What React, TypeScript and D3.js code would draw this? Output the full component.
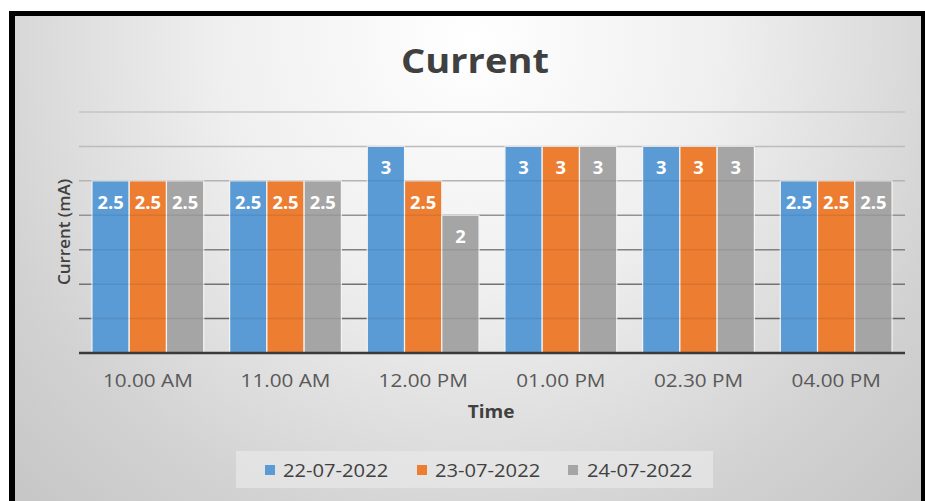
import React from "react";
import * as d3 from "d3";

const times = ["10.00 AM", "11.00 AM", "12.00 PM", "01.00 PM", "02.30 PM", "04.00 PM"];
const dates = ["22-07-2022", "23-07-2022", "24-07-2022"];
const day1 = [2.5, 2.5, 3, 3, 3, 2.5];
const day2 = [2.5, 2.5, 2.5, 3, 3, 2.5];
const day3 = [2.5, 2.5, 2, 3, 3, 2.5];
const seriesValues = [day1, day2, day3];
const colors = ["#5b9bd5", "#ed7d31", "#a5a5a5"];
const gridTicks = [0.5, 1, 1.5, 2, 2.5, 3, 3.5];

const W = 925;
const H = 501;
const FONT = "'Open Sans', 'Noto Sans', sans-serif";
const STRETCH = 1.12;

type TProps = {
  x: number;
  y: number;
  size: number;
  weight?: number;
  fill: string;
  anchor?: "start" | "middle" | "end";
  sx?: number;
  children: React.ReactNode;
};

// Text drawn with a slight horizontal widening, anchored at (x, y)
function SText({ x, y, size, weight = 400, fill, anchor = "middle", sx = STRETCH, children }: TProps) {
  return (
    <text
      transform={`translate(${x},${y}) scale(${sx},1)`}
      textAnchor={anchor}
      fontFamily={FONT}
      fontWeight={weight}
      fontSize={size}
      fill={fill}
    >
      {children}
    </text>
  );
}

export default function App() {
  const left = 79;
  const right = 905;
  const top = 112;
  const bottom = 353;

  const x0 = d3.scaleBand<string>().domain(times).range([left, right]).padding(0);
  const bw = x0.bandwidth();
  const x1 = d3
    .scaleBand<number>()
    .domain(d3.range(dates.length))
    .range([bw * 0.094, bw * 0.906])
    .padding(0);
  const y = d3.scaleLinear().domain([0, 3.5]).range([bottom, top]);

  const legendItems = [
    { sq: 265, tx: 283 },
    { sq: 417, tx: 435 },
    { sq: 568, tx: 587 },
  ];

  return (
    <svg
      width={W}
      height={H}
      style={{ position: "absolute", left: 0, top: 0, display: "block" }}
    >
      <defs>
        <radialGradient id="bg" gradientUnits="userSpaceOnUse" cx={470} cy={40} r={720}>
          <stop offset="0" stopColor="#ffffff" />
          <stop offset="0.35" stopColor="#efefef" />
          <stop offset="0.7" stopColor="#d2d2d2" />
          <stop offset="1" stopColor="#c0c0c0" />
        </radialGradient>
        <linearGradient id="gridShade" gradientUnits="userSpaceOnUse" x1={0} y1={top} x2={0} y2={bottom}>
          <stop offset="0" stopColor="#d6d6d6" />
          <stop offset="0.3" stopColor="#c4c4c4" />
          <stop offset="0.45" stopColor="#9a9a9a" />
          <stop offset="1" stopColor="#5e5e5e" />
        </linearGradient>
      </defs>

      <rect x={0} y={0} width={W} height={H} fill="#ffffff" />
      <rect x={9} y={11} width={W - 9} height={H - 11} fill="#000000" />
      <rect x={15} y={16} width={921 - 15} height={H - 16} fill="url(#bg)" />

      {/* title */}
      <SText x={475} y={73} size={34} weight={700} fill="#404040">
        Current
      </SText>

      {/* gridlines behind bars */}
      {gridTicks.map((t) => (
        <line
          key={"g" + t}
          x1={left}
          x2={right}
          y1={y(t)}
          y2={y(t)}
          stroke="url(#gridShade)"
          strokeWidth={1.5}
        />
      ))}

      {/* bars */}
      {seriesValues.map((vals, si) =>
        vals.map((v, i) => {
          const bx = (x0(times[i]) as number) + (x1(si) as number);
          return (
            <rect
              key={`b${si}-${i}`}
              x={bx}
              y={y(v)}
              width={x1.bandwidth()}
              height={bottom - y(v)}
              fill={colors[si]}
              stroke="#f4f4f4"
              strokeWidth={1.2}
            />
          );
        })
      )}

      {/* gridlines faintly visible through bars */}
      {gridTicks.map((t) => (
        <line
          key={"o" + t}
          x1={left}
          x2={right}
          y1={y(t)}
          y2={y(t)}
          stroke="#000000"
          strokeOpacity={0.08}
          strokeWidth={1.5}
        />
      ))}

      {/* value labels */}
      {seriesValues.map((vals, si) =>
        vals.map((v, i) => {
          const cx = (x0(times[i]) as number) + (x1(si) as number) + x1.bandwidth() / 2;
          return (
            <SText key={`l${si}-${i}`} x={cx} y={y(v) + 28} size={17} weight={700} fill="#ffffff" sx={1.08}>
              {v}
            </SText>
          );
        })
      )}

      {/* x axis line */}
      <line x1={left} x2={right} y1={bottom} y2={bottom} stroke="#3a3a3a" strokeWidth={2.5} />

      {/* category labels */}
      {times.map((t) => (
        <SText key={t} x={(x0(t) as number) + bw / 2} y={387} size={18.5} fill="#595959">
          {t}
        </SText>
      ))}

      {/* axis titles */}
      <SText x={491} y={418} size={17} weight={700} fill="#404040">
        Time
      </SText>
      <text
        transform={`translate(70, 232) rotate(-90)`}
        textAnchor="middle"
        fontFamily={FONT}
        fontWeight={600}
        fontSize={17}
        fill="#404040"
      >
        Current (mA)
      </text>

      {/* legend */}
      <rect x={236} y={451} width={477} height={37} fill="#e8e8e8" fillOpacity={0.7} />
      {dates.map((d, i) => (
        <g key={d}>
          <rect x={legendItems[i].sq} y={465} width={10} height={10} fill={colors[i]} />
          <SText x={legendItems[i].tx} y={477} size={18} fill="#404040" anchor="start">
            {d}
          </SText>
        </g>
      ))}
    </svg>
  );
}
